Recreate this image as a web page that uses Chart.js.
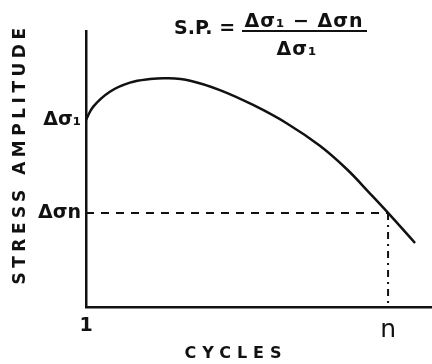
<!DOCTYPE html>
<html>
<head>
<meta charset="utf-8">
<script src="https://cdn.jsdelivr.net/npm/chart.js@4"></script>
<style>
  html, body { margin: 0; padding: 0; background: #fff; }
  #c { display: block; }
</style>
</head>
<body>
<canvas id="c" width="432" height="364"></canvas>
<script>
// ---- data ----
const curveX = [0, 2.1, 6.9, 12.7, 18.5, 23.3, 30.1, 38.7, 48.3, 58.1, 67.6, 75.4, 82.1, 87.3, 95.1];
const curveY = [67.8, 72.6, 78.0, 81.3, 82.6, 82.9, 82.0, 78.6, 73.2, 66.5, 58.4, 49.9, 41.1, 34.1, 23.2];
const xTickValues = [0, 87.3];
const xTickLabels = ['1', 'n'];
const yTickValues = [34.1, 67.8];
const yTickLabels = ['Δσn', 'Δσ₁'];
const xTitle = 'CYCLES';
const yTitle = 'STRESS AMPLITUDE';
const formulaLeft = 'S.P. =';
const formulaNum = 'Δσ₁ − Δσn';
const formulaDen = 'Δσ₁';

const INK = '#111';
const FONT = '"DejaVu Sans", sans-serif';

const curve = curveX.map((x, i) => ({ x, y: curveY[i] }));
const nX = xTickValues[1], nY = yTickValues[0];
const hDash = [{ x: xTickValues[0], y: nY }, { x: nX, y: nY }];
const vDash = [{ x: nX, y: nY }, { x: nX, y: 0 }];

const textPlugin = {
  id: 'texts',
  afterDraw(chart) {
    const ctx = chart.ctx;
    ctx.save();
    ctx.fillStyle = INK;
    ctx.textBaseline = 'alphabetic';
    // x-axis title
    ctx.font = 'bold 16px ' + FONT;
    ctx.letterSpacing = '6px';
    ctx.textAlign = 'center';
    ctx.fillText(xTitle, 236, 358);
    // y-axis title
    ctx.save();
    ctx.translate(25, 154);
    ctx.rotate(-Math.PI / 2);
    ctx.font = 'bold 17px ' + FONT;
    ctx.letterSpacing = '4.5px';
    ctx.fillText(yTitle, 0, 0);
    ctx.restore();
    // formula
    ctx.letterSpacing = '0px';
    ctx.font = 'bold 19px ' + FONT;
    ctx.textAlign = 'left';
    ctx.fillText(formulaLeft, 174, 34);
    ctx.letterSpacing = '1px';
    ctx.textAlign = 'center';
    ctx.fillText(formulaNum, 304, 27);
    ctx.fillText(formulaDen, 297, 55);
    ctx.strokeStyle = INK;
    ctx.lineWidth = 2;
    ctx.beginPath();
    ctx.moveTo(242, 31);
    ctx.lineTo(367, 31);
    ctx.stroke();
    ctx.restore();
  }
};

new Chart(document.getElementById('c'), {
  type: 'line',
  data: {
    datasets: [
      { data: curve, borderColor: INK, borderWidth: 2.5, pointRadius: 0,
        tension: 0.4, fill: false },
      { data: hDash, borderColor: INK, borderWidth: 2, pointRadius: 0,
        borderDash: [8, 7], fill: false },
      { data: vDash, borderColor: INK, borderWidth: 2, pointRadius: 0,
        borderDash: [7, 5, 2, 5], fill: false }
    ]
  },
  options: {
    responsive: false,
    animation: false,
    layout: { padding: { top: 31, right: 0, left: 0, bottom: 0 } },
    plugins: { legend: { display: false }, tooltip: { enabled: false } },
    scales: {
      x: {
        type: 'linear', min: 0, max: 100,
        grid: { display: false, drawTicks: false },
        border: { display: true, color: INK, width: 2.5 },
        afterBuildTicks(scale) { scale.ticks = xTickValues.map(v => ({ value: v })); },
        afterFit(scale) { scale.height = 57; },
        ticks: {
          color: INK, padding: 8, maxRotation: 0, autoSkip: false,
          font: (c) => (c.index === 1 ? { family: FONT, size: 25 } : { family: FONT, size: 19, weight: 'bold' }),
          callback: (v, i) => xTickLabels[i]
        }
      },
      y: {
        type: 'linear', min: 0, max: 100,
        grid: { display: false, drawTicks: false },
        border: { display: true, color: INK, width: 2.5 },
        afterBuildTicks(scale) { scale.ticks = yTickValues.map(v => ({ value: v })); },
        afterFit(scale) { scale.width = 86; },
        ticks: {
          color: INK, padding: 5, autoSkip: false,
          font: { family: FONT, size: 19, weight: 'bold' },
          callback: (v, i) => yTickLabels[i]
        }
      }
    }
  },
  plugins: [textPlugin]
});
</script>
</body>
</html>
